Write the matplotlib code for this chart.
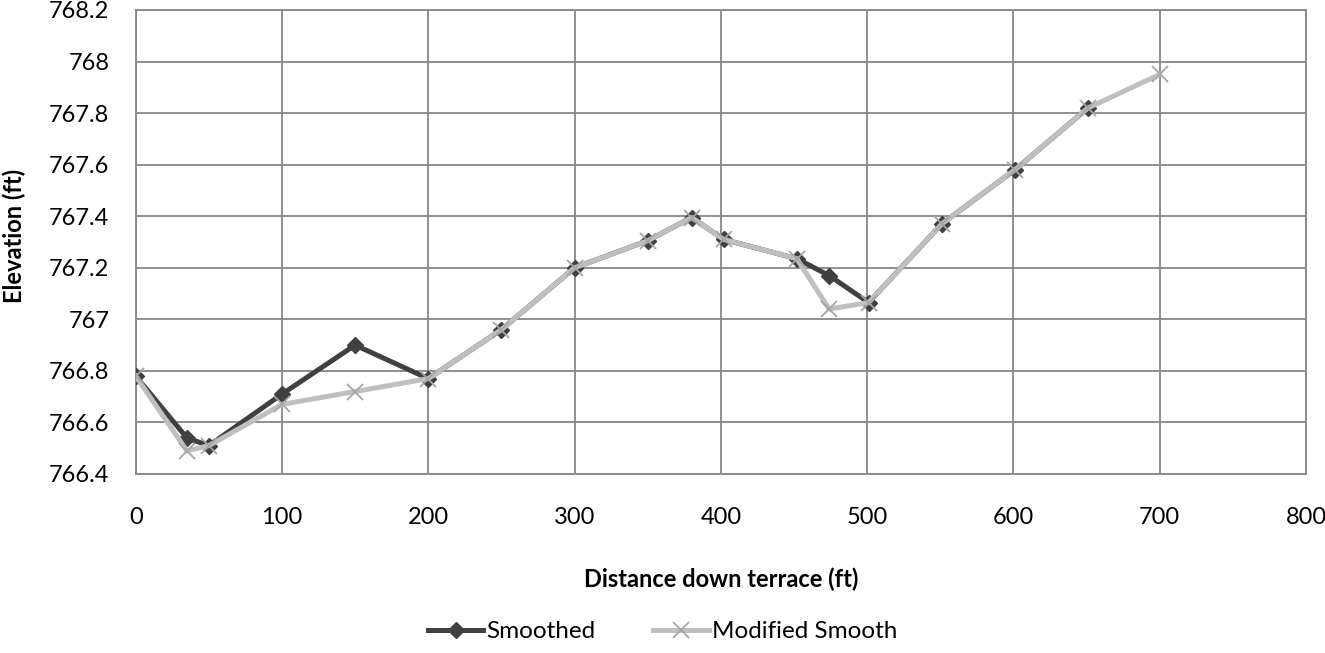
import matplotlib
matplotlib.use("Agg")
import matplotlib.pyplot as plt
from matplotlib.ticker import MultipleLocator, FuncFormatter

# distance down terrace (ft)
dist_smoothed = [0, 35, 50, 100, 150, 200, 250, 300, 350, 380, 402, 452, 474, 501, 551, 601, 651]
elev_smoothed = [766.78, 766.54, 766.51, 766.71, 766.90, 766.77, 766.96, 767.20, 767.305, 767.395,
                 767.31, 767.235, 767.17, 767.065, 767.37, 767.58, 767.82]

dist_modified = [0, 35, 50, 100, 150, 200, 250, 300, 350, 380, 402, 452, 474, 501, 551, 601, 651, 700]
elev_modified = [766.78, 766.49, 766.51, 766.67, 766.72, 766.77, 766.96, 767.20, 767.305, 767.395,
                 767.31, 767.235, 767.04, 767.065, 767.37, 767.58, 767.82, 767.95]

plt.rcParams['font.family'] = ['Lato', 'DejaVu Sans']

W, H = 1325, 653
fig = plt.figure(figsize=(W / 100, H / 100), dpi=100)
ax = fig.add_axes([135.7 / W, 1 - 474 / H, (1306 - 135.7) / W, 464 / H])

ax.plot(dist_smoothed, elev_smoothed, color='#404040', lw=3.6, marker='D', ms=8,
        mfc='#404040', mec='#404040', label='Smoothed', zorder=3)
ax.plot(dist_modified, elev_modified, color='#bfbfbf', lw=3.6, marker='x', ms=11,
        mew=1.3, mec='#a6a6a6', label='Modified Smooth', zorder=4)

ax.set_xlim(0, 800)
ax.set_ylim(766.4, 768.2)
ax.xaxis.set_major_locator(MultipleLocator(100))
ax.yaxis.set_major_locator(MultipleLocator(0.2))
ax.yaxis.set_major_formatter(FuncFormatter(lambda v, p: ('%.1f' % v).rstrip('0').rstrip('.')))
ax.grid(True, color='#878787', lw=1.3)
ax.set_axisbelow(True)
for s in ax.spines.values():
    s.set_color('#878787')
    s.set_linewidth(1.3)
ax.tick_params(length=0, labelsize=17)
ax.tick_params(axis='x', pad=24)
ax.tick_params(axis='y', pad=19)

# axis titles placed where the reference has them
fig.text(721 / W, 1 - 579 / H, 'Distance down terrace (ft)', fontsize=17,
         fontweight='bold', ha='center', va='center')
fig.text(14 / W, 1 - 236 / H, 'Elevation (ft)', fontsize=17, fontweight='bold',
         ha='center', va='center', rotation=90)

ax.legend(loc='center', bbox_to_anchor=(0.45, -0.34), ncol=2, frameon=False,
          fontsize=17.5, handlelength=2.3, columnspacing=2.4, handletextpad=0.1,
          borderaxespad=0, borderpad=0)

fig.savefig('out.png', dpi=100)
